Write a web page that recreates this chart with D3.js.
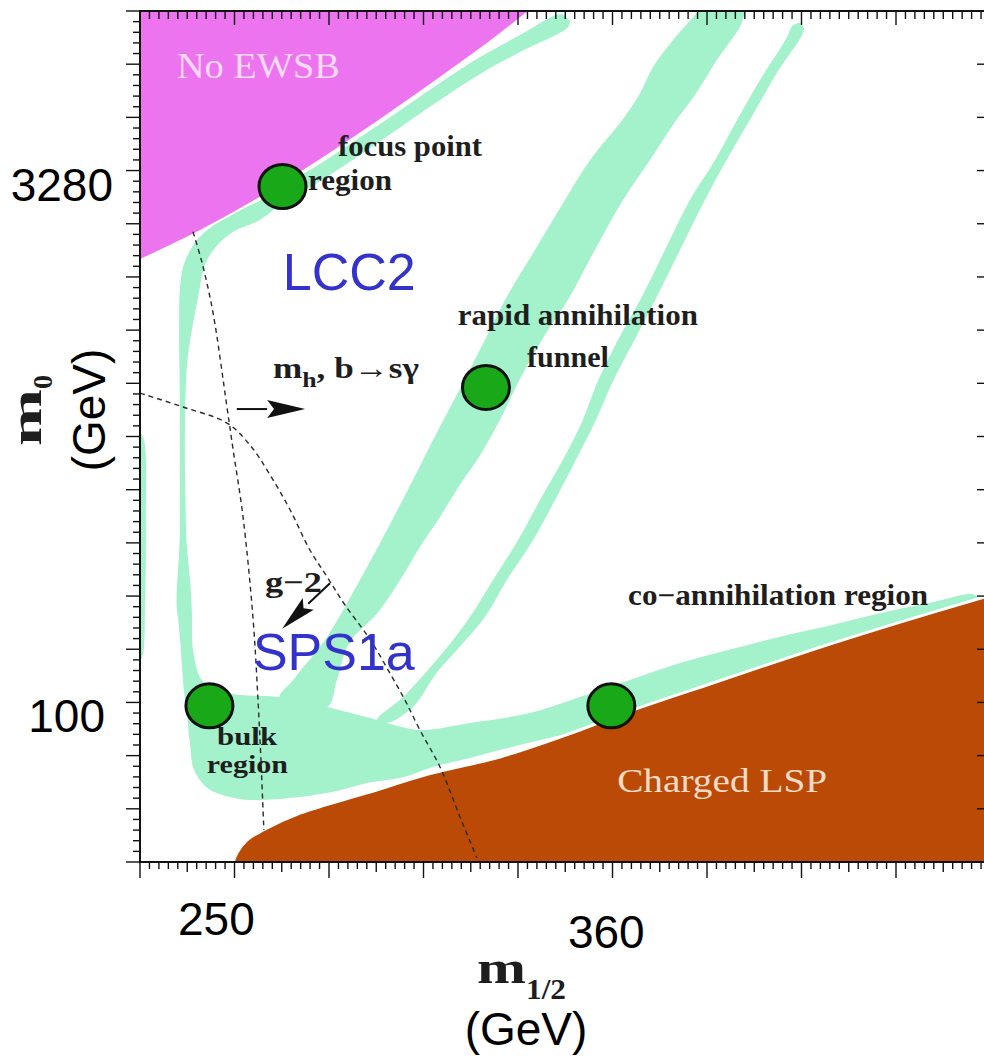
<!DOCTYPE html>
<html>
<head>
<meta charset="utf-8">
<script src="https://cdn.jsdelivr.net/npm/d3@7"></script>
<style>
  html, body { margin: 0; padding: 0; background: #fff; }
  svg { display: block; }
</style>
</head>
<body>
<div id="chart"></div>
<script>
// all shapes are [m_1/2, m_0] in GeV

// No EWSB boundary, top right to left frame
const ewsbEdge = [[337.2,10600],[326.8,8670],[313.1,6800],[296.7,5130],[280.3,3920],[263.8,3040],[247.4,2430],[231,2000]];
const ewsbCorner = [[231,10600]];

// charged LSP boundary, right to bottom
const lspEdge = [[462,207.6],[438.2,174.4],[415.2,146],[387.8,116.6],[365.9,97.2],[351.4,85.0],[329.5,70.9],[311.2,63.7],[293.1,55.7],[274.8,48.6],[264.7,43.4],[260.3,40.6],[257.5,37.2],[256.5,35]];
const lspCorner = [[465,35],[465,208]];

// allowed relic density bands
const focusBand = [[347.6,10250],[346.0,10460],[335.0,9080],[324.1,7830],[313.1,6580],[296.7,4990],[280.3,3820],[270.1,3290],[263.8,2980],[258.4,2800],[252.3,2580],[247.4,2340],[244.7,2130],[242.8,1910],[241.9,1640],[241.7,1250],[241.9,781],[241.9,326],[241.9,178],[244.4,178],[243.6,326],[243.3,638],[243.9,1000],[245.2,1250],[246.9,1560],[248.8,1940],[251.5,2170],[256.5,2420],[263.8,2620],[270.1,2940],[280.3,3400],[296.7,4450],[313.1,5870],[324.1,6990],[335.0,8100],[347.9,9520],[348.7,9910]];

const bulkBand = [[241.9,204],[242.2,146],[243.0,111],[243.9,92.8],[244.7,76.8],[245.5,66.3],[247.4,60.7],[250.2,56.8],[255.6,54.2],[261.1,53.1],[274.8,54.2],[284.9,56.4],[293.1,59.5],[303.0,61.9],[311.2,66.3],[321.3,70.4],[329.5,74.3],[340.5,79.5],[352.2,85.0],[362.4,90.9],[378.8,104],[387.8,111],[400.7,123.1],[415.2,138.8],[428.1,153.9],[438.2,168.2],[450.0,184.1],[460.4,200],
  [459.5,211],[447.2,200],[433.5,186.2],[419.9,171.7],[406.2,159.2],[392.5,146],[378.8,133.3],[365.1,119],[351.4,106.1],[337.7,95.3],[321.3,89.1],[307.6,85.0],[298.6,89.1],[295.9,90.9],[282.2,99.2],[269.3,106.1],[258.4,107.6],[251.0,111],[247.4,121.4],[245.5,146],[244.4,204]];

const wideFunnel = [[269.3,106.1],[272.9,119],[282.2,159.2],[291.2,233],[298.6,326],[305.7,456],[312.6,638],[319.1,864],[325.4,1169],[330.9,1530],[339.1,2141],[347.3,2996],[354.2,3920],[363.0,5130],[367.9,6150],[371.4,7325],[376.9,8783],[383.5,10600],[384.3,11040],
  [398.5,11040],[396.6,10460],[395.2,9585],[388.9,7678],[382.9,6068],[377.4,5062],[370.6,3920],[363.2,2996],[355.5,2141],[348.1,1530],[341.8,1209],[335.6,925],[329.5,683],[324.1,539],[319.4,456],[313.1,356],[307.6,291],[302.2,233],[295.9,186],[288.3,153],[284.9,119],[282.2,99.2]];

const thinFunnel = [[295.9,90.9],[303.0,106.1],[313.9,143.1],[321.3,181.6],[327.6,233],[334.5,305],[340.5,399],[347.9,551],[352.2,683],[356.1,876],[361.8,1169],[367.9,1530],[374.7,2141],[381.5,2996],[388.4,3920],[394.4,5130],[400.7,6712],[408.1,8962],[409.5,9649],[411.6,9845],[412.7,9520],[412.2,9083],[405.3,7035],[397.9,5130],[392.0,4000],[385.6,2996],[378.8,2141],[372.0,1530],[365.9,1146],[360.2,876],[355.8,683],[351.4,551],[344.6,399],[338.6,305],[331.4,233],[325.4,181.6],[318.6,149.0],[312.3,125.3],[305.7,99.2],[298.6,89.1]];

const edgeSliver = [[231,625],[232.1,597],[232.6,349],[232.4,204],[231.8,141],[231,136]];

// constraint curves (dashed)
const higgsLine = [[245.5,2420],[248.0,1962],[251.0,1401],[254.8,745],[256.5,558],[259.2,356],[261.9,182],[263.3,104],[264.1,69.5],[264.9,43.4]];
const gm2Line = [[231,818],[242.8,745],[254.8,669],[261.1,577],[266.6,472],[272.1,373],[277.5,285],[282.2,238],[287.1,197],[294.0,156],[299.4,124.5],[303.5,104],[307.6,85.0],[313.1,66.3],[318.6,47.3],[323.2,36.0]];

const mhArrow = [[257.5,735],[276.2,735]];
const gm2Arrow = [[283.0,228],[269.9,168]];

// benchmark points
const benchNames = ["focus", "funnel", "bulk", "coann"];
const benchM12 = [270, 325.7, 250, 360];
const benchM0 = [3280, 850, 100, 100];

const xTickLabels = [250, 360];
const yTickLabels = [100, 3280];

// annotations: text, anchor [m_1/2, m_0]
const notes = [
  {t: "No EWSB", at: [241.1, 6800], kind: "light"},
  {t: "focus point", at: [285.2, 4027], kind: "note"},
  {t: "region", at: [277.0, 3204], kind: "note"},
  {t: "rapid annihilation", at: [318.0, 1293], kind: "note"},
  {t: "funnel", at: [336.9, 975.5], kind: "note"},
  {t: "g\u22122", at: [265.2, 215], kind: "note"},
  {t: "bulk", at: [252.1, 76.8], kind: "small"},
  {t: "region", at: [249.3, 63.7], kind: "small"},
  {t: "co\u2212annihilation region", at: [364.6, 197.3], kind: "note"},
  {t: "Charged LSP", at: [361.6, 56.0], kind: "lsp"}
];
const noteWidths = [163, 144, 84, 240, 82, 57, 60, 81, 300, 210];
const blueNotes = [{t: "LCC2", at: [270.1, 1636]}, {t: "SPS1a", at: [261.9, 127]}];

const W = 984, H = 1056;
const serif = "'Liberation Serif', 'DejaVu Serif', serif";
const sans = "'Liberation Sans', Arial, sans-serif";
const ink = "#1e1e1e";
const mint = "#a4f2cb";

const svg = d3.select("#chart").append("svg")
    .attr("width", W)
    .attr("height", H);
svg.append("rect").attr("width", W).attr("height", H).attr("fill", "#fff");

const frame = {left: 140, right: 986, top: 11, bottom: 862};
const x = d3.scaleLinear().domain([231, 462]).range([140, 984]);
const y = d3.scaleLog().domain([35, 10600]).range([862, 12]);

svg.append("clipPath").attr("id", "plotclip")
  .append("rect")
    .attr("x", frame.left).attr("y", frame.top)
    .attr("width", frame.right - frame.left).attr("height", frame.bottom - frame.top);

const g = svg.append("g").attr("clip-path", "url(#plotclip)");

const smooth = d3.line().x(d => x(d[0])).y(d => y(d[1])).curve(d3.curveCatmullRomClosed.alpha(0.5));
const poly = d3.line().x(d => x(d[0])).y(d => y(d[1])).curve(d3.curveLinearClosed);
const open = d3.line().x(d => x(d[0])).y(d => y(d[1])).curve(d3.curveCatmullRom.alpha(0.5));

// green bands
[edgeSliver, focusBand, bulkBand, wideFunnel, thinFunnel].forEach(band => {
  g.append("path").attr("d", smooth(band)).attr("fill", mint);
});

// excluded regions
g.append("path").attr("d", poly(ewsbEdge.concat(ewsbCorner))).attr("fill", "#ec74ee");
g.append("path").attr("d", open(ewsbEdge)).attr("fill", "none").attr("stroke", "#fff").attr("stroke-width", 2);
g.append("path").attr("d", poly(lspEdge.concat(lspCorner))).attr("fill", "#bb4a06");
g.append("path").attr("d", open(lspEdge)).attr("fill", "none").attr("stroke", "#fff").attr("stroke-width", 3);

// dashed limits
[higgsLine, gm2Line].forEach(l => {
  g.append("path").attr("d", open(l))
    .attr("fill", "none").attr("stroke", "#2a2a2a")
    .attr("stroke-width", 1.4).attr("stroke-dasharray", "5,4");
});

// arrows
function drawArrow(pts, headLen, headHalf) {
  let x1 = x(pts[0][0]), y1 = y(pts[0][1]);
  let x2 = x(pts[1][0]), y2 = y(pts[1][1]);
  let a = Math.atan2(y2 - y1, x2 - x1);
  let bx = x2 - headLen * Math.cos(a), by = y2 - headLen * Math.sin(a);
  g.append("line")
    .attr("x1", x1).attr("y1", y1).attr("x2", bx).attr("y2", by)
    .attr("stroke", "#111").attr("stroke-width", 2);
  g.append("path")
    .attr("d", "M" + x2 + "," + y2 +
               "L" + (bx - headHalf * Math.sin(a)) + "," + (by + headHalf * Math.cos(a)) +
               "L" + (bx + headLen * 0.18 * Math.cos(a)) + "," + (by + headLen * 0.18 * Math.sin(a)) +
               "L" + (bx + headHalf * Math.sin(a)) + "," + (by - headHalf * Math.cos(a)) + "Z")
    .attr("fill", "#111");
}
drawArrow(mhArrow, 38, 9);
drawArrow(gm2Arrow, 36, 8);

// annotation texts
const noteStyle = {
  note: {size: 29, weight: "bold", fill: ink},
  small: {size: 26, weight: "bold", fill: ink},
  light: {size: 35, weight: "normal", fill: "#fbd9fb"},
  lsp: {size: 33, weight: "normal", fill: "#f6dcc6"}
};
g.selectAll(".note")
  .data(notes)
  .join("text")
    .attr("class", "note")
    .attr("x", d => x(d.at[0]))
    .attr("y", d => y(d.at[1]))
    .attr("font-family", serif)
    .attr("font-size", d => noteStyle[d.kind].size)
    .attr("font-weight", d => noteStyle[d.kind].weight)
    .attr("fill", d => noteStyle[d.kind].fill)
    .attr("textLength", (d, i) => noteWidths[i])
    .attr("lengthAdjust", "spacingAndGlyphs")
    .text(d => d.t);

// m_h, b -> s gamma
const mhText = g.append("text")
    .attr("x", x(267.4)).attr("y", y(906))
    .attr("font-family", serif).attr("font-size", 30).attr("font-weight", "bold")
    .attr("fill", ink)
    .attr("textLength", 146).attr("lengthAdjust", "spacingAndGlyphs");
mhText.append("tspan").text("m");
mhText.append("tspan").attr("font-size", 22).attr("dy", 9).text("h");
mhText.append("tspan").attr("dy", -9).text(", b\u2192s\u03b3");

// benchmark points
const bench = benchNames.map((n, i) => ({name: n, m12: benchM12[i], m0: benchM0[i]}));
g.selectAll(".bench")
  .data(bench)
  .join("ellipse")
    .attr("class", "bench")
    .attr("cx", d => x(d.m12))
    .attr("cy", d => y(d.m0))
    .attr("rx", 23.5).attr("ry", 22)
    .attr("fill", "#18a818")
    .attr("stroke", "#111").attr("stroke-width", 3);

// frame
svg.append("rect")
    .attr("x", frame.left).attr("y", frame.top)
    .attr("width", frame.right - frame.left).attr("height", frame.bottom - frame.top)
    .attr("fill", "none").attr("stroke", "#111").attr("stroke-width", 2);

// frame ticks (unlabelled), in tick units
const xt = d3.scaleLinear().domain([0, 9]).range([140, 990.5]);
const yt = d3.scaleLinear().domain([0, 16]).range([862, 11]);
const ticks = svg.append("g").attr("stroke", "#111").attr("stroke-width", 1.4);
d3.range(0, 90).forEach(i => {
  let major = i % 10 === 0, px = xt(i / 10);
  let mid = i % 5 === 0;
  let len = major ? 16 : (mid ? 10 : 7);
  if (px > 984) return;
  ticks.append("line").attr("x1", px).attr("x2", px).attr("y1", frame.bottom).attr("y2", frame.bottom + len);
  ticks.append("line").attr("x1", px).attr("x2", px).attr("y1", frame.top).attr("y2", frame.top + (major ? 14 : 8));
});
d3.range(0, 81).forEach(i => {
  let major = i % 5 === 0, py = yt(i / 5);
  ticks.append("line").attr("x1", frame.left - (major ? 14 : 7)).attr("x2", frame.left).attr("y1", py).attr("y2", py);
  if (major) ticks.append("line").attr("x1", frame.right - 9).attr("x2", frame.right).attr("y1", py).attr("y2", py);
});

// tick labels
const tickLabelPos = {250: {dx: 7, base: 935}, 360: {dx: -5, base: 948}};
svg.selectAll(".xlab")
  .data(xTickLabels)
  .join("text")
    .attr("class", "xlab")
    .attr("x", d => x(d) + tickLabelPos[d].dx)
    .attr("y", d => tickLabelPos[d].base)
    .attr("text-anchor", "middle")
    .attr("font-family", sans).attr("font-size", 46).attr("fill", "#000")
    .text(d => d);
const yLabelPos = {100: {end: 105, dy: 26}, 3280: {end: 113, dy: 14.5}};
svg.selectAll(".ylab")
  .data(yTickLabels)
  .join("text")
    .attr("class", "ylab")
    .attr("x", d => yLabelPos[d].end)
    .attr("y", d => y(d) + yLabelPos[d].dy)
    .attr("text-anchor", "end")
    .attr("font-family", sans).attr("font-size", 46).attr("fill", "#000")
    .text(d => d);

// axis titles
const xTitle = svg.append("text")
    .attr("x", 477).attr("y", 983)
    .attr("font-family", serif).attr("font-weight", "bold").attr("fill", ink);
xTitle.append("tspan").attr("font-size", 46).attr("textLength", 49).attr("lengthAdjust", "spacingAndGlyphs").text("m");
xTitle.append("tspan").attr("font-size", 30).attr("dy", 16).attr("textLength", 40).attr("lengthAdjust", "spacingAndGlyphs").text("1/2");
svg.append("text")
    .attr("x", 526).attr("y", 1045)
    .attr("text-anchor", "middle")
    .attr("font-family", sans).attr("font-size", 46).attr("fill", "#000")
    .text("(GeV)");

const yTitle = svg.append("text")
    .attr("transform", "translate(41,446) rotate(-90)")
    .attr("font-family", serif).attr("font-weight", "bold").attr("fill", ink);
yTitle.append("tspan").attr("font-size", 44).attr("textLength", 57).attr("lengthAdjust", "spacingAndGlyphs").text("m");
yTitle.append("tspan").attr("font-size", 28).attr("dy", 11).text("0");
svg.append("text")
    .attr("transform", "translate(105,410) rotate(-90)")
    .attr("text-anchor", "middle")
    .attr("font-family", sans).attr("font-size", 46).attr("fill", "#000")
    .text("(GeV)");

// benchmark names overlaid in blue
svg.selectAll(".blue")
  .data(blueNotes)
  .join("text")
    .attr("class", "blue")
    .attr("x", d => x(d.at[0]))
    .attr("y", d => y(d.at[1]))
    .attr("font-family", sans).attr("font-size", 52)
    .attr("fill", "#3333cc")
    .text(d => d.t);
</script>
</body>
</html>
